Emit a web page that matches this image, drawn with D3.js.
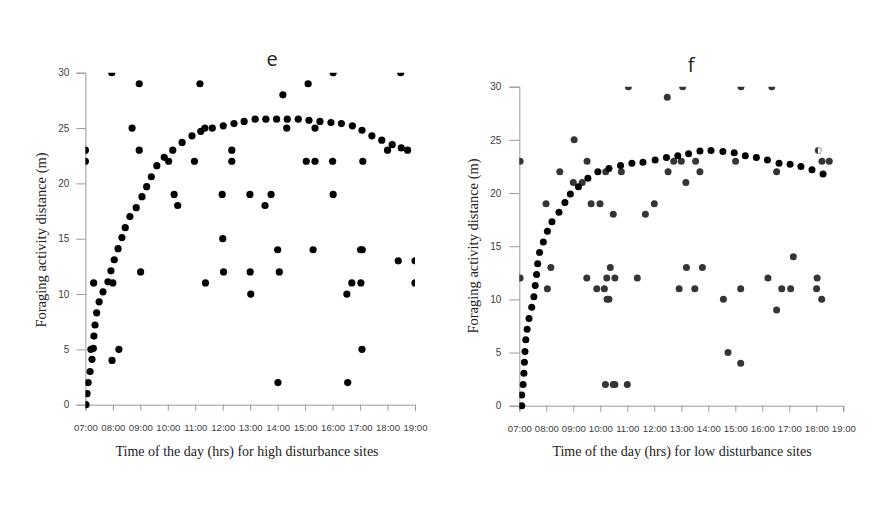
<!DOCTYPE html>
<html><head><meta charset="utf-8">
<script src="https://cdn.jsdelivr.net/npm/d3@7"></script>
<style>body{margin:0;background:#fff}svg{display:block}</style>
</head><body>
<svg id="c" width="883" height="521"></svg>
<script>
// ---- data ----
const hourTicks = [7,8,9,10,11,12,13,14,15,16,17,18,19];
const distTicks = [0,5,10,15,20,25,30];
const panelTitles = ["e","f"];
const xTitles = ["Time of the day (hrs) for high disturbance sites","Time of the day (hrs) for low disturbance sites"];
const yTitle = "Foraging activity distance (m)";

// high disturbance: observed
const highObsHours = [7.0,7.0,7.2,7.3,7.96,7.97,8.0,8.22,8.7,8.96,8.96,9.01,10.03,10.23,10.36,10.97,11.17,11.35,11.37,11.98,12.0,12.03,12.33,12.33,12.99,13.0,13.02,13.54,13.76,14.0,14.06,14.01,14.19,14.33,15.04,15.11,15.29,15.36,15.36,16.0,16.02,16.02,16.52,16.55,16.7,17.02,17.08,17.03,17.07,17.1,18.0,18.39,18.48,19.0,19.0];
const highObsDist  = [23,22,5,11,30,4,11,5,25,29,23,12,22,19,18,22,29,25,11,19,15,12,23,22,19,12,10,18,19,14,12,2,28,25,22,29,14,25,22,22,30,19,10,2,11,14,14,11,5,22,23,13,30,13,11];
// high disturbance: fitted curve
const highFitHours = [7.02,7.06,7.1,7.17,7.24,7.29,7.31,7.35,7.41,7.5,7.64,7.82,7.93,8.05,8.19,8.33,8.45,8.62,8.85,9.06,9.23,9.4,9.6,9.87,10.18,10.52,10.88,11.2,11.62,12.02,12.41,12.78,13.18,13.57,13.96,14.35,14.75,15.14,15.54,15.94,16.32,16.72,17.07,17.43,17.79,18.17,18.5,18.73];
const highFitDist  = [0,1,2,3,4.1,5.1,6.2,7.2,8.3,9.3,10.2,11.1,12.1,13.1,14.1,15.1,16,17,17.8,18.8,19.7,20.6,21.6,22.35,23,23.7,24.3,24.7,25,25.2,25.4,25.6,25.8,25.8,25.8,25.8,25.8,25.7,25.6,25.5,25.4,25.2,24.8,24.3,23.9,23.5,23.2,23.0];

// low disturbance: observed
const lowObsHours = [7.03,7.03,7.99,8.04,8.17,8.5,9.0,9.03,9.33,9.5,9.51,9.66,9.87,9.99,10.15,10.19,10.2,10.24,10.25,10.32,10.37,10.48,10.48,10.54,10.54,10.78,11.0,11.04,11.37,11.67,12.0,12.48,12.51,12.72,12.92,13.0,13.05,13.17,13.19,13.5,13.53,13.69,13.78,14.56,14.73,15.01,15.2,15.2,15.21,16.21,16.35,16.53,16.53,16.72,17.05,17.15,18.01,18.03,18.2,18.21,18.48];
const lowObsDist  = [23,12,19,11,13,22,21,25,21,12,23,19,11,19,11,2,22,12,10,10,13,18,2,2,12,22,2,30,12,18,19,29,22,23,11,23,30,21,13,11,23,22,13,10,5,23,11,4,30,12,30,22,9,11,11,14,11,12,10,23,23];
const lowHalfHours = [18.07];
const lowHalfDist = [24];
// low disturbance: fitted curve
const lowFitHours = [7.09,7.09,7.14,7.17,7.19,7.21,7.24,7.29,7.36,7.46,7.54,7.59,7.64,7.68,7.75,7.89,8.04,8.21,8.47,8.69,8.89,9.19,9.54,9.91,10.32,10.75,11.17,11.58,12.03,12.45,12.87,13.27,13.69,14.1,14.54,14.96,15.37,15.78,16.19,16.62,17.03,17.43,17.84,18.25];
const lowFitDist  = [0,1,2,3.05,4.08,5.1,6.2,7.2,8.2,9.25,10.25,11.3,12.35,13.35,14.4,15.4,16.4,17.3,18.2,19.1,19.9,20.6,21.4,22.0,22.3,22.6,22.8,22.9,23.1,23.35,23.5,23.7,23.95,24.0,23.9,23.8,23.5,23.35,23.1,22.8,22.7,22.5,22.2,21.8];

// ---- drawing ----
const svg = d3.select("#c");
const defs = svg.append("defs");
const grad = defs.append("linearGradient").attr("id","halfDot").attr("x1","0").attr("x2","1").attr("y1","0").attr("y2","0");
grad.append("stop").attr("offset","50%").attr("stop-color","#333");
grad.append("stop").attr("offset","50%").attr("stop-color","#fff");

const fmt = h => String(h).padStart(2,"0") + ":00";
const minorX = d3.range(7, 19.001, 1/6);
const minorY = d3.range(0, 30.001, 2.5);

function panel(o) {
  const x = d3.scaleLinear().domain([7,19]).range([o.x0, o.x1]);
  const y = d3.scaleLinear().domain([0,30]).range([o.y0, o.y1]);
  const g = svg.append("g");
  const axisColor = "#9a9a9a", labColor = "#3c3c3c";

  const xa = g.append("g").attr("transform", `translate(0,${o.y0})`);
  xa.call(d3.axisBottom(x).tickValues(minorX).tickSize(3).tickFormat(""));
  xa.call(d3.axisBottom(x).tickValues(hourTicks).tickSize(6).tickFormat(fmt).tickPadding(13));
  xa.selectAll("path,line").attr("stroke", axisColor);
  xa.selectAll("text").attr("fill", labColor).style("font-family","'Liberation Sans',Arial,sans-serif").style("font-size","9.6px");

  const ya = g.append("g").attr("transform", `translate(${o.x0},0)`);
  ya.call(d3.axisLeft(y).tickValues(minorY).tickSize(o.minorY).tickFormat(""));
  ya.call(d3.axisLeft(y).tickValues(distTicks).tickSize(o.majorY).tickPadding(o.padY));
  ya.selectAll("path,line").attr("stroke", axisColor);
  ya.selectAll("text").attr("fill", labColor).style("font-family","'Liberation Sans',Arial,sans-serif").style("font-size","10px");

  const cid = "clip" + o.key;
  defs.append("clipPath").attr("id", cid).append("rect")
    .attr("x", o.x0).attr("y", o.y1).attr("width", o.x1 - o.x0).attr("height", o.y0 - o.y1 + 12);
  const pg = g.append("g").attr("clip-path", `url(#${cid})`);

  pg.selectAll("circle.obs").data(d3.range(o.obsH.length)).join("circle")
    .attr("class","obs").attr("cx", i => x(o.obsH[i])).attr("cy", i => y(o.obsD[i]))
    .attr("r", o.r).attr("fill", o.obsColor);
  pg.selectAll("circle.fit").data(d3.range(o.fitH.length)).join("circle")
    .attr("class","fit").attr("cx", i => x(o.fitH[i])).attr("cy", i => y(o.fitD[i]))
    .attr("r", o.r).attr("fill", "#000");
  if (o.halfH) {
    pg.selectAll("circle.half").data(d3.range(o.halfH.length)).join("circle")
      .attr("class","half").attr("cx", i => x(o.halfH[i])).attr("cy", i => y(o.halfD[i]))
      .attr("r", o.r - 0.3).attr("fill", "url(#halfDot)").attr("stroke","#666").attr("stroke-width",0.7);
  }

  g.append("text").attr("x", o.tx).attr("y", o.ty).attr("text-anchor","middle")
    .style("font-family","'Open Sans','Noto Sans',sans-serif").style("font-size","20px").attr("fill","#222").text(o.title);
  g.append("text").attr("x", o.xtx).attr("y", o.xty).attr("text-anchor","middle")
    .style("font-family","'Liberation Serif','Times New Roman',serif").style("font-size","14px").attr("fill","#222").text(o.xtitle);
  g.append("text").attr("transform", `translate(${o.ytx},${o.yty}) rotate(-90)`).attr("text-anchor","middle")
    .style("font-family","'Liberation Serif','Times New Roman',serif").style("font-size","14.5px").attr("fill","#222").text(yTitle);
}

panel({key:"e", x0:85.4, x1:415, y0:404.7, y1:72.7, minorY:5, majorY:9, padY:7,
  obsH:highObsHours, obsD:highObsDist, fitH:highFitHours, fitD:highFitDist, r:3.6, obsColor:"#000",
  title:panelTitles[0], tx:272, ty:66, xtitle:xTitles[0], xtx:247, xty:456, ytx:46, yty:240});
panel({key:"f", x0:519.3, x1:843.3, y0:405.7, y1:86.7, minorY:6, majorY:10, padY:8,
  obsH:lowObsHours, obsD:lowObsDist, fitH:lowFitHours, fitD:lowFitDist, halfH:lowHalfHours, halfD:lowHalfDist, r:3.5, obsColor:"#353535",
  title:panelTitles[1], tx:691, ty:72, xtitle:xTitles[1], xtx:682, xty:456, ytx:478, yty:246});
</script>
</body></html>
